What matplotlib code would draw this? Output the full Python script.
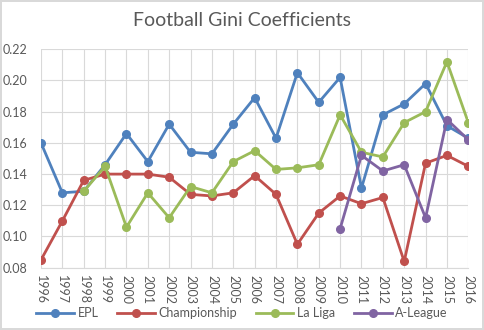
import matplotlib
matplotlib.use("Agg")
import matplotlib.pyplot as plt
import numpy as np

plt.rcParams["font.family"] = ["Lato", "DejaVu Sans"]

years = list(range(1996, 2017))

epl = [0.160, 0.128, 0.129, 0.146, 0.166, 0.148, 0.172, 0.154, 0.153, 0.172,
       0.189, 0.163, 0.205, 0.186, 0.202, 0.131, 0.178, 0.185, 0.198, 0.171, 0.163]
championship = [0.085, 0.110, 0.136, 0.140, 0.140, 0.140, 0.138, 0.127, 0.126, 0.128,
                0.139, 0.127, 0.095, 0.115, 0.126, 0.121, 0.125, 0.084, 0.147, 0.152, 0.145]
la_liga = [None, None, 0.129, 0.145, 0.106, 0.128, 0.112, 0.132, 0.128, 0.148,
           0.155, 0.143, 0.144, 0.146, 0.178, 0.154, 0.151, 0.173, 0.180, 0.212, 0.173]
a_league = [None] * 14 + [0.105, 0.152, 0.142, 0.146, 0.112, 0.175, 0.162]

series = [
    ("EPL", epl, "#4F81BD"),
    ("Championship", championship, "#C0504D"),
    ("La Liga", la_liga, "#9BBB59"),
    ("A-League", a_league, "#8064A2"),
]

fig = plt.figure(figsize=(4.84, 3.30), dpi=100)
fig.patch.set_edgecolor("#d9d9d9")
fig.patch.set_linewidth(1.5)
ax = fig.add_axes([41 / 484, 1 - 267.7 / 330, (468.3 - 41) / 484, (267.7 - 49.3) / 330])

x = np.arange(len(years))
for name, vals, col in series:
    v = np.array([np.nan if a is None else a for a in vals], dtype=float)
    ax.plot(x, v, color=col, lw=2.0, marker="o", ms=5.5, label=name)

ax.set_xlim(0, len(years) - 1)
ax.set_ylim(0.08, 0.22)
ax.set_yticks(np.arange(0.08, 0.2201, 0.02))
ax.set_yticklabels([f"{t:.2f}" for t in np.arange(0.08, 0.2201, 0.02)])
ax.set_xticks(x)
ax.set_xticklabels([str(y) for y in years], rotation=-90)
ax.tick_params(axis="both", length=0, colors="#595959", labelsize=9)
ax.tick_params(axis="y", pad=10)
ax.tick_params(axis="x", pad=5)
ax.grid(True, color="#d9d9d9", lw=0.8)
ax.set_axisbelow(True)
for side in ["top", "right", "left"]:
    ax.spines[side].set_visible(False)
ax.spines["bottom"].set_color("#d9d9d9")

fig.text(0.5, 1 - 20 / 330, "Football Gini Coefficients", ha="center", va="center",
         fontsize=14, color="#595959")

fig.legend(loc="center", bbox_to_anchor=(0.5, 1 - 313 / 330), ncol=4, frameon=False,
           fontsize=9, labelcolor="#595959", handlelength=3, columnspacing=1.5,
           handletextpad=0.3)

fig.savefig("out.png", dpi=100, edgecolor=fig.get_edgecolor())
